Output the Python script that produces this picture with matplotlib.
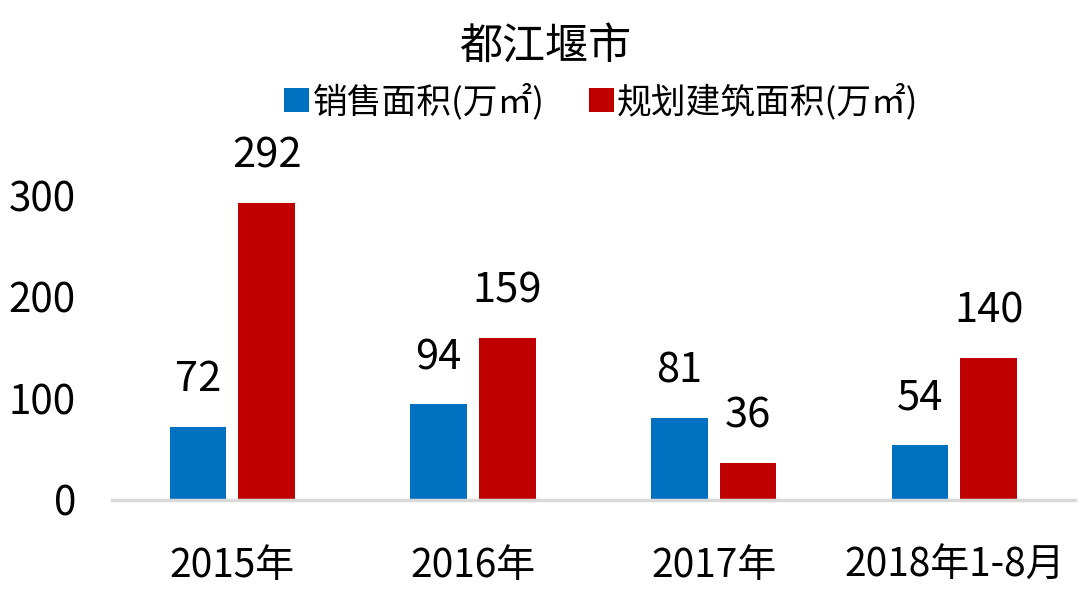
import numpy as np
import matplotlib
matplotlib.use("Agg")
import matplotlib.pyplot as plt

plt.rcParams['font.family'] = ['Noto Sans CJK SC', 'DejaVu Sans']

categories = ['2015年', '2016年', '2017年', '2018年1-8月']
sales = [72, 94, 81, 54]
planned = [292, 159, 36, 140]
series_names = ['销售面积(万㎡)', '规划建筑面积(万㎡)']
colors = ['#0070c0', '#c00000']

fig = plt.figure(figsize=(10.8, 6), dpi=100)
ax = fig.add_axes([0.1037, 0.1667, 0.8913, 0.5083])

x = np.arange(len(categories))
w = 0.235
gap = 0.05
b1 = ax.bar(x - (w + gap) / 2, sales, w, color=colors[0], label=series_names[0])
b2 = ax.bar(x + (w + gap) / 2, planned, w, color=colors[1], label=series_names[1])

for bars in (b1, b2):
    for rect in bars:
        h = rect.get_height()
        ax.annotate(f'{h:g}', (rect.get_x() + rect.get_width() / 2, h),
                    xytext=(0, 19), textcoords='offset points',
                    ha='center', va='bottom', fontsize=30, clip_on=False)

ax.set_xlim(-0.5, len(categories) - 0.5)
ax.set_ylim(0, 300)
ax.set_yticks([0, 100, 200, 300])
ax.set_xticks(x)
ax.set_xticklabels(categories)
ax.tick_params(axis='both', length=0)
ax.tick_params(axis='x', pad=33, labelsize=28)
ax.tick_params(axis='y', pad=26, labelsize=29)

for s in ('top', 'right', 'left'):
    ax.spines[s].set_visible(False)
ax.spines['bottom'].set_color('#d9d9d9')
ax.spines['bottom'].set_linewidth(2.5)

fig.text(0.505, 0.922, '都江堰市', ha='center', va='center', fontsize=31)
fig.legend(handles=[b1, b2], loc='center', bbox_to_anchor=(0.557, 0.83),
           ncol=2, frameon=False, fontsize=25, handlelength=0.7,
           handleheight=0.7, handletextpad=0.1, columnspacing=1.3)

fig.savefig('out.png', dpi=100)
